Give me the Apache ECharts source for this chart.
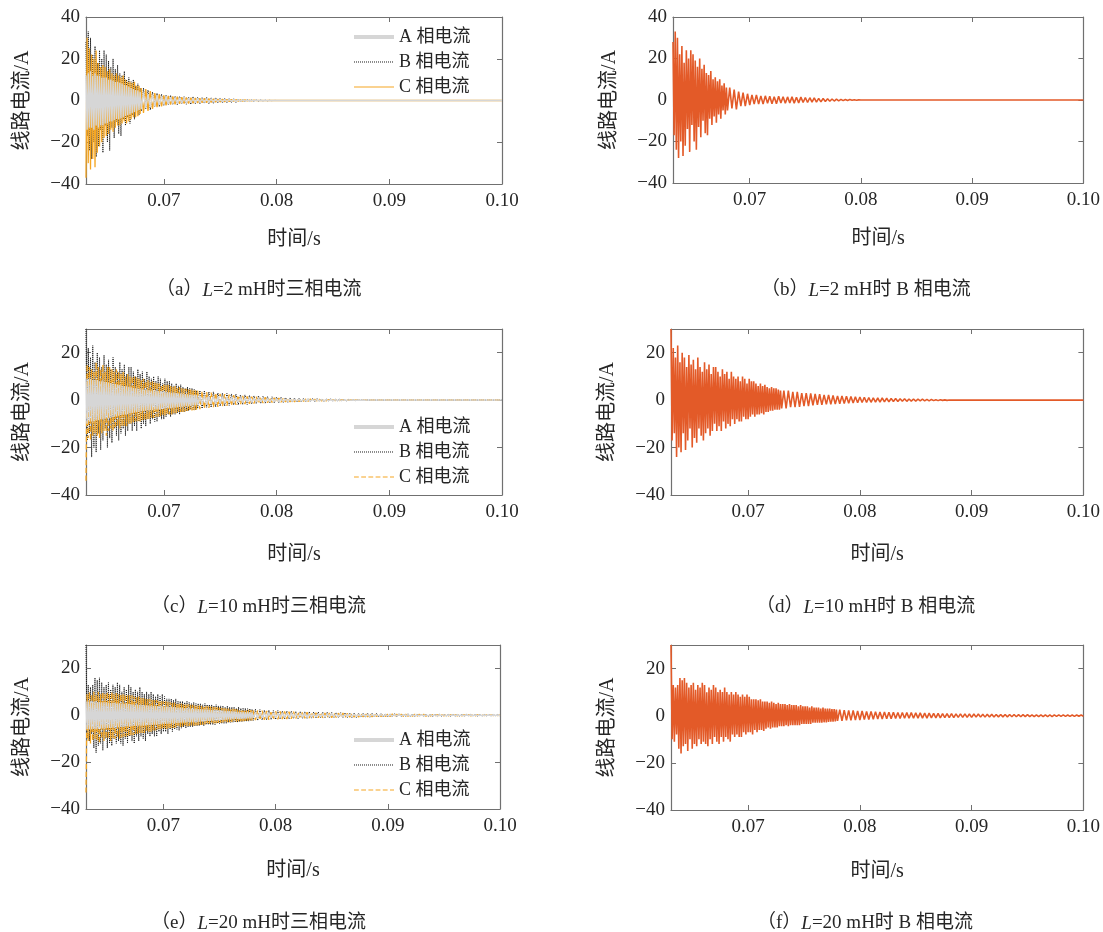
<!DOCTYPE html>
<html><head><meta charset="utf-8">
<script src="https://cdn.jsdelivr.net/npm/echarts@6/dist/echarts.min.js"></script>
<style>html,body{margin:0;padding:0;background:#fff}#c{width:1103px;height:932px}</style>
</head><body><div id="c"></div>
<script>
// ---------- data ----------
const T0 = 0.0631;          // first sample time (s)
const DT_FINE = 0.0001;     // spacing of read peaks in the dense early part (s)
const DT_COARSE = 0.0002;   // spacing of read peaks in the later part (s)
const T_END = 0.1;
const xTickValues = [0.07, 0.08, 0.09, 0.10];
const yTicks40 = [-40, -20, 0, 20, 40];
const yTicks30 = [-40, -20, 0, 20];
const phaseNames = ['A 相电流', 'B 相电流', 'C 相电流'];
const captionTags = ['a', 'b', 'c', 'd', 'e', 'f'];
const captionL = ['2', '2', '10', '10', '20', '20'];
const captionTail = ['时三相电流', '时 B 相电流', '时三相电流', '时 B 相电流', '时三相电流', '时 B 相电流'];
const FINE_N_L2 = 50, FINE_N_L10 = 100, FINE_N_L20 = 150; // number of dense samples per case

// L = 2 mH
const A_L2 = [12,-14,13,-13,14,-13,12,-14,13,-12,
 12,-13,12,-12,11,-12,11,-11,11,-11,
 10,-10,10,-10,9.5,-9.5,9,-9,9,-9,
 8.5,-8.5,8,-8,7.5,-7.5,7,-7,6.5,-6.5,
 6,-6,5.5,-5.5,5,-5,4.8,-4.5,4.2,-4,
 3.8,-3.5,3.2,-3,2.8,-2.6,2.4,-2.2,2,-1.9,
 1.8,-1.7,1.6,-1.5,1.4,-1.4,1.3,-1.3,1.2,-1.2,
 1.1,-1.1,1,-1,1,-0.9,0.9,-0.9,0.8,-0.8,
 0.8,-0.7,0.7,-0.6,0.6,-0.6,0.5,-0.5,0.5,-0.4,
 0.4,-0.4,0.3,-0.3,0.3,-0.3,0.2,-0.2,0.2,-0.2,
 0.15,-0.1,0.1,-0.1,0.05,-0.05,0,0,0,0,0];
const B_L2 = [28,-17,33,-24,30,-28,22,-20,26,-27,
 18,-22,24,-14,20,-25,24,-12,22,-20,
 19,-24,16,-13,20,-18,15,-10,17,-16,
 13,-17,12,-9,14,-12,10,-8,11,-11,
 9,-7,10,-9,7,-5,8,-7,6,-5,
 6,-4,5,-4.5,4,-3,3.5,-3,3,-2.5,
 2.5,-2,2.5,-2,2,-2,2,-1.6,1.8,-1.8,
 1.6,-1.8,1.8,-1.5,1.6,-1.6,1.5,-1.4,1.5,-1.5,
 1.3,-1.4,1.4,-1.2,1.2,-1.2,1.1,-1,1,-1,
 0.8,-0.9,0.7,-0.7,0.6,-0.6,0.5,-0.5,0.4,-0.4,
 0.3,-0.3,0.25,-0.2,0.2,-0.15,0.1,-0.1,0.05,0,0];
const C_L2 = [-37,30,-30,25,-33,22,-28,20,-32,24,
 -25,18,-22,16,-20,17,-18,16,-17,14,
 -16,15,-14,13,-15,12,-13,13,-12,12,
 -12,11,-11,12,-10,10,-11,9,-10,9,
 -9,8.5,-8,9,-8,7,-7.5,7,-6.5,6,
 -6,5.5,-5,4.5,-4,3.5,-3.2,3,-2.8,2.5,
 -2.3,2.2,-2,2,-1.8,1.8,-1.6,1.6,-1.5,1.5,
 -1.4,1.3,-1.3,1.2,-1.2,1.1,-1.1,1,-1,0.9,
 -0.9,0.8,-0.8,0.7,-0.7,0.6,-0.6,0.5,-0.5,0.5,
 -0.4,0.4,-0.3,0.3,-0.3,0.3,-0.2,0.2,-0.2,0.2,
 -0.1,0.1,-0.1,0.1,-0.05,0.05,0,0,0,0,0];

// L = 10 mH
const A_L10 = [9,-10,9,-9,9,-9,8.5,-9,8.5,-8.5,
 8.5,-8.5,8,-8,8,-8,7.8,-7.8,7.6,-7.6,
 7.4,-7.4,7.2,-7.2,7,-7,6.8,-6.8,6.6,-6.6,
 6.4,-6.4,6.2,-6.2,6,-6,5.8,-5.8,5.6,-5.6,
 5.4,-5.4,5.2,-5.2,5,-5,4.9,-4.9,4.8,-4.8,
 4.6,-4.6,4.5,-4.5,4.4,-4.4,4.2,-4.2,4.1,-4.1,
 4,-4,3.9,-3.9,3.8,-3.8,3.7,-3.7,3.6,-3.6,
 3.5,-3.5,3.4,-3.4,3.3,-3.3,3.2,-3.2,3.1,-3.1,
 3,-3,2.9,-2.9,2.8,-2.8,2.7,-2.7,2.6,-2.6,
 2.5,-2.5,2.4,-2.4,2.3,-2.3,2.2,-2.2,2.1,-2.1,
 2,-2,1.9,-1.8,1.7,-1.7,1.6,-1.5,1.5,-1.4,
 1.4,-1.3,1.3,-1.2,1.2,-1.1,1.1,-1,1,-1,
 0.9,-0.9,0.9,-0.8,0.8,-0.8,0.7,-0.7,0.7,-0.6,
 0.6,-0.6,0.6,-0.5,0.5,-0.5,0.5,-0.5,0.4,-0.4,
 0.4,-0.4,0.4,-0.3,0.3,-0.3,0.3,-0.3,0.3,-0.3,
 0.25,-0.25,0.2,-0.2,0.2,-0.2,0.2,-0.2,0.15,-0.15,
 0.15,-0.15,0.1,-0.1,0.1,-0.1,0.1,-0.1,0.1,-0.1,
 0.05,-0.05,0.05,-0.05,0,0];
const B_L10 = [30,-17,22,-14,18,-24,23,-20,16,-22,
 20,-14,18,-21,14,-17,19,-12,15,-20,
 17,-16,13,-18,18,-12,14,-15,12,-17,
 16,-14,13,-12,15,-15,11,-13,14,-10,
 14,-13,12,-11,10,-13,13,-9,11,-12,
 12,-10,9,-11,12,-8,10,-10,9,-8,
 10,-9,8,-9,10,-7,9,-8,7,-8,
 9,-7,8,-6,8,-7,7,-6,6,-6,
 7,-5.5,6,-6,6.5,-5,5.5,-5,5,-4.5,
 5.5,-4.5,5,-4,5,-4,4.5,-4,4,-3.5,
 4,-3.5,4,-3,3.5,-3,3.5,-2.8,3,-2.5,
 3,-2.5,2.8,-2.2,2.6,-2,2.5,-2,2.2,-1.8,
 2.2,-1.8,2,-1.6,1.8,-1.5,1.8,-1.4,1.6,-1.3,
 1.5,-1.2,1.4,-1.1,1.3,-1,1.2,-1,1.1,-0.9,
 1,-0.8,0.9,-0.8,0.9,-0.7,0.8,-0.7,0.7,-0.6,
 0.7,-0.6,0.6,-0.5,0.6,-0.5,0.5,-0.4,0.5,-0.4,
 0.4,-0.3,0.4,-0.3,0.3,-0.3,0.3,-0.2,0.2,-0.2,
 0.2,-0.1,0.1,-0.1,0.05,0];
const C_L10 = [-34,15,-16,14,-17,13,-15,12,-14,16,
 -15,14,-16,13,-14,15,-13,12,-15,14,
 -13,14,-12,13,-13,12,-12,13,-11,12,
 -12,11,-11,12,-11,10,-11,11,-10,10,
 -10,10,-9.5,10,-9,9.5,-9,9,-9,8.5,
 -8.5,9,-8.5,8,-8,8.5,-8,7.5,-7.5,8,
 -7.5,7.5,-7,7.5,-7,7,-7,6.5,-6.5,7,
 -6.5,6.5,-6,6.5,-6,6,-6,5.5,-5.5,6,
 -5.5,5.5,-5,5.5,-5,5,-5,4.8,-4.8,4.8,
 -4.6,4.6,-4.5,4.5,-4.4,4.4,-4.2,4.2,-4,4,
 -3.8,3.7,-3.5,3.4,-3.3,3.2,-3,3,-2.8,2.7,
 -2.6,2.5,-2.4,2.3,-2.2,2.1,-2,2,-1.8,1.8,
 -1.7,1.6,-1.5,1.5,-1.4,1.4,-1.3,1.3,-1.2,1.2,
 -1.1,1.1,-1,1,-0.9,0.9,-0.9,0.8,-0.8,0.8,
 -0.7,0.7,-0.7,0.6,-0.6,0.6,-0.5,0.5,-0.5,0.5,
 -0.4,0.4,-0.4,0.4,-0.3,0.3,-0.3,0.3,-0.3,0.2,
 -0.2,0.2,-0.2,0.2,-0.15,0.15,-0.1,0.1,-0.1,0.1,
 -0.05,0.05,-0.05,0.05,0,0];

// L = 20 mH
const A_L20 = [6,-6,6,-6,5.9,-5.9,5.9,-5.8,5.8,-5.8,
 5.7,-5.7,5.7,-5.6,5.6,-5.6,5.5,-5.5,5.5,-5.4,
 5.4,-5.4,5.3,-5.3,5.3,-5.2,5.2,-5.2,5.1,-5.1,
 5.1,-5,5,-5,4.9,-4.9,4.9,-4.8,4.8,-4.8,
 4.7,-4.7,4.7,-4.6,4.6,-4.6,4.5,-4.5,4.5,-4.4,
 4.4,-4.4,4.3,-4.3,4.3,-4.2,4.2,-4.2,4.1,-4.1,
 4.1,-4,4,-4,3.9,-3.9,3.9,-3.8,3.8,-3.8,
 3.7,-3.7,3.7,-3.6,3.6,-3.6,3.5,-3.5,3.5,-3.4,
 3.4,-3.4,3.3,-3.3,3.3,-3.2,3.2,-3.2,3.1,-3.1,
 3.1,-3,3,-3,2.9,-2.9,2.9,-2.8,2.8,-2.8,
 2.7,-2.7,2.7,-2.6,2.6,-2.6,2.5,-2.5,2.5,-2.4,
 2.4,-2.4,2.3,-2.3,2.3,-2.2,2.2,-2.2,2.1,-2.1,
 2.1,-2,2,-2,1.9,-1.9,1.9,-1.8,1.8,-1.8,
 1.7,-1.7,1.7,-1.6,1.6,-1.6,1.5,-1.5,1.5,-1.5,
 1.4,-1.4,1.4,-1.4,1.3,-1.3,1.3,-1.3,1.2,-1.2,
 1.2,-1.2,1.1,-1.1,1.1,-1.1,1,-1,1,-1,
 0.95,-0.95,0.9,-0.9,0.9,-0.85,0.85,-0.85,0.8,-0.8,
 0.8,-0.75,0.75,-0.75,0.7,-0.7,0.7,-0.65,0.65,-0.65,
 0.6,-0.6,0.6,-0.6,0.55,-0.55,0.55,-0.5,0.5,-0.5,
 0.5,-0.45,0.45,-0.45,0.45,-0.4,0.4,-0.4,0.4,-0.4,
 0.35,-0.35,0.35,-0.35,0.35,-0.3,0.3,-0.3,0.3,-0.3,
 0.3,-0.25,0.25,-0.25,0.25,-0.25,0.25,-0.2,0.2,-0.2,
 0.2,-0.2,0.2,-0.2,0.2,-0.2,0.15,-0.15,0.15,-0.15,
 0.15,-0.15,0.15,-0.15,0.15,-0.15,0.1,-0.1,0.1,-0.1,
 0.1,-0.1,0.1,-0.1,0.1,-0.1,0.1,-0.1,0.1,-0.1,
 0.1,-0.1,0.1,-0.1,0.1,-0.1,0.1,-0.1,0.1,-0.1];
const B_L20 = [30,-10,13,-11,12,-8,13,-14,16,-16,
 15,-13,16,-12,14,-15,12,-10,13,-14,
 14,-12,11,-13,13,-10,12,-12,14,-11,
 13,-12,10,-13,12,-10,11,-12,13,-9,
 12,-11,10,-12,11,-9,10,-11,12,-9,
 10,-10,9,-11,10,-8,9,-9,10,-8,
 9,-9,8,-9,9,-7,8,-8,9,-7,
 8,-7,7,-8,7,-6,7,-7,6.5,-6,
 7,-6,6,-6.5,6,-5.5,6,-5,5.5,-5.5,
 6,-5,5.5,-5,5,-5,5.5,-4.5,5,-4.5,
 5,-4.5,5,-4,4.5,-4.5,5,-4,4.5,-4,
 4.5,-4,4.5,-4,4,-4,4.5,-3.5,4,-3.5,
 4,-3.5,4,-3.5,3.5,-3.5,4,-3,3.5,-3,
 3.5,-3,3.5,-3,3,-3,3.5,-2.8,3,-2.8,
 3,-2.6,3,-2.5,2.8,-2.5,2.8,-2.4,2.6,-2.2,
 2.6,-2.2,2.4,-2,2.2,-2,2.2,-1.8,2,-1.8,
 2,-1.6,1.8,-1.6,1.8,-1.5,1.7,-1.4,1.6,-1.4,
 1.6,-1.3,1.5,-1.3,1.5,-1.2,1.4,-1.2,1.4,-1.1,
 1.3,-1.1,1.3,-1.1,1.2,-1,1.2,-1,1.1,-1,
 1.1,-0.9,1,-0.9,1,-0.9,0.9,-0.8,0.9,-0.8,
 0.9,-0.8,0.8,-0.7,0.8,-0.7,0.8,-0.7,0.7,-0.7,
 0.7,-0.6,0.7,-0.6,0.6,-0.6,0.6,-0.55,0.6,-0.55,
 0.55,-0.5,0.55,-0.5,0.5,-0.5,0.5,-0.45,0.5,-0.45,
 0.45,-0.45,0.45,-0.4,0.45,-0.4,0.4,-0.4,0.4,-0.4,
 0.4,-0.35,0.4,-0.35,0.35,-0.35,0.35,-0.3,0.35,-0.3,
 0.35,-0.3,0.3,-0.3,0.3,-0.3,0.3,-0.25,0.3,-0.25];
const C_L20 = [-33,9,-11,10,-12,9,-11,10,-10,9,
 -11,10,-12,9,-10,10,-11,9,-10,10,
 -10,9,-11,10,-10,9,-10,9.5,-9.5,9,
 -10,9,-9.5,9,-9,9,-9,8.5,-9,8.5,
 -8.5,8.5,-8.5,8,-8,8,-8,8,-7.5,7.5,
 -7.5,7.5,-7.5,7,-7,7,-7,7,-7,6.5,
 -6.5,6.5,-6.5,6.5,-6,6.5,-6,6,-6,6,
 -5.8,6,-5.8,5.8,-5.6,5.6,-5.5,5.5,-5.4,5.4,
 -5.2,5.2,-5,5.2,-5,5,-4.9,4.9,-4.8,4.8,
 -4.7,4.7,-4.6,4.6,-4.5,4.5,-4.4,4.4,-4.3,4.3,
 -4.2,4.2,-4.1,4.1,-4,4,-3.9,3.9,-3.8,3.8,
 -3.7,3.7,-3.6,3.6,-3.5,3.5,-3.4,3.4,-3.3,3.3,
 -3.2,3.2,-3.1,3.1,-3,3,-3,2.9,-2.9,2.9,
 -2.8,2.8,-2.7,2.7,-2.7,2.6,-2.6,2.6,-2.5,2.5,
 -2.5,2.4,-2.4,2.4,-2.3,2.3,-2.3,2.2,-2.2,2.2,
 -2.1,2.1,-2,2,-1.9,1.9,-1.9,1.8,-1.8,1.8,
 -1.7,1.7,-1.6,1.6,-1.6,1.5,-1.5,1.5,-1.4,1.4,
 -1.4,1.3,-1.3,1.3,-1.2,1.2,-1.2,1.1,-1.1,1.1,
 -1.1,1,-1,1,-1,0.95,-0.95,0.9,-0.9,0.9,
 -0.85,0.85,-0.8,0.8,-0.8,0.75,-0.75,0.75,-0.7,0.7,
 -0.7,0.65,-0.65,0.65,-0.6,0.6,-0.6,0.6,-0.55,0.55,
 -0.55,0.55,-0.5,0.5,-0.5,0.5,-0.5,0.45,-0.45,0.45,
 -0.45,0.45,-0.4,0.4,-0.4,0.4,-0.4,0.4,-0.35,0.35,
 -0.35,0.35,-0.35,0.35,-0.3,0.3,-0.3,0.3,-0.3,0.3,
 -0.3,0.3,-0.25,0.25,-0.25,0.25,-0.25,0.25,-0.25,0.25,
 -0.2,0.2,-0.2,0.2,-0.2,0.2,-0.2,0.2,-0.2,0.2];

// ---------- layout & style ----------
const FONT = "'Liberation Serif','Noto Sans CJK SC',serif";
const TXT = '#262626';
const AXIS_C = '#707070';
const COL_A = '#d6d6d6', COL_B = '#1a1a1a', COL_C = '#f5a623', COL_R = '#e35a28';

const panels = [
  {left: 86,  top: 17,  width: 416, height: 167, yMax: 40, yt: yTicks40, xGap: 46, three: true,  sets: [A_L2, B_L2, C_L2],    fineN: FINE_N_L2,  cDash: 'solid',  legendTop: 28,  capX: 151, capY: 276},
  {left: 673, top: 17,  width: 415, height: 166, yMax: 40, yt: yTicks40, xGap: 46, three: false, sets: [B_L2],                fineN: FINE_N_L2,  capX: 756, capY: 276},
  {left: 86,  top: 329, width: 416, height: 166, yMax: 30, yt: yTicks30, xGap: 50, three: true,  sets: [A_L10, B_L10, C_L10], fineN: FINE_N_L10, cDash: 'dashed', legendTop: 418, capX: 146, capY: 593},
  {left: 671, top: 329, width: 417, height: 166, yMax: 30, yt: yTicks30, xGap: 50, three: false, sets: [B_L10],               fineN: FINE_N_L10, capX: 751, capY: 593},
  {left: 86,  top: 645, width: 414, height: 164, yMax: 30, yt: yTicks30, xGap: 52, three: true,  sets: [A_L20, B_L20, C_L20], fineN: FINE_N_L20, cDash: 'dashed', legendTop: 731, capX: 146, capY: 909},
  {left: 671, top: 645, width: 416, height: 165, yMax: 30, yt: yTicks30, xGap: 52, three: false, sets: [B_L20],               fineN: FINE_N_L20, capX: 752, capY: 909}
];

function sampleTime(i, fineN) {
  return i < fineN ? T0 + i * DT_FINE : T0 + (fineN - 1) * DT_FINE + (i - fineN + 1) * DT_COARSE;
}
function toPoints(vals, fineN) {
  const pts = vals.map((v, i) => [+sampleTime(i, fineN).toFixed(5), v]);
  if (pts[pts.length - 1][0] < T_END - 1e-9) pts.push([T_END, 0]);
  return pts;
}
const minus = s => String(s).replace('-', '\u2212');

const grid = [], xAxis = [], yAxis = [], series = [], legend = [], title = [];
const hideSym = {color: 'rgba(0,0,0,0)', borderColor: 'rgba(0,0,0,0)', borderWidth: 0, opacity: 0};
panels.forEach((p, k) => {
  grid.push({left: p.left, top: p.top, width: p.width, height: p.height});
  const axLine = {show: true, onZero: false, lineStyle: {color: AXIS_C, width: 1.2}};
  const tick = vals => ({show: true, inside: true, length: 5, customValues: vals, lineStyle: {color: AXIS_C}});
  xAxis.push({gridIndex: k, type: 'value', min: T0, max: T_END, position: 'bottom',
    axisLine: axLine, axisTick: tick(xTickValues),
    axisLabel: {customValues: xTickValues, formatter: v => v.toFixed(2), margin: 8,
      fontFamily: FONT, fontSize: 19, color: TXT},
    splitLine: {show: false},
    name: '时间/s', nameLocation: 'middle', nameGap: p.xGap,
    nameTextStyle: {fontFamily: FONT, fontSize: 20, color: TXT}});
  xAxis.push({gridIndex: k, type: 'value', min: T0, max: T_END, position: 'top',
    axisLine: axLine, axisTick: tick(xTickValues),
    axisLabel: {show: false}, splitLine: {show: false}});
  yAxis.push({gridIndex: k, type: 'value', min: -40, max: p.yMax, position: 'left',
    axisLine: axLine, axisTick: tick(p.yt),
    axisLabel: {customValues: p.yt, formatter: v => minus(v), margin: 6,
      fontFamily: FONT, fontSize: 19, color: TXT},
    splitLine: {show: false},
    name: '线路电流/A', nameLocation: 'middle', nameGap: 53, nameRotate: 90,
    nameTextStyle: {fontFamily: FONT, fontSize: 20, color: TXT}});
  yAxis.push({gridIndex: k, type: 'value', min: -40, max: p.yMax, position: 'right',
    axisLine: axLine, axisTick: tick(p.yt),
    axisLabel: {show: false}, splitLine: {show: false}});

  const xi = 2 * k, yi = 2 * k;
  if (p.three) {
    const [a, b, c] = p.sets;
    series.push({name: phaseNames[1], type: 'line', xAxisIndex: xi, yAxisIndex: yi, data: toPoints(b, p.fineN),
      symbol: 'none', animation: false, lineStyle: {color: COL_B, width: 1, type: 'dotted'}, itemStyle: {color: COL_B}});
    series.push({name: phaseNames[2], type: 'line', xAxisIndex: xi, yAxisIndex: yi, data: toPoints(c, p.fineN),
      symbol: 'none', animation: false, lineStyle: {color: COL_C, width: 1.3, type: p.cDash}, itemStyle: {color: COL_C}});
    series.push({name: phaseNames[0], type: 'line', xAxisIndex: xi, yAxisIndex: yi, data: toPoints(a, p.fineN),
      symbol: 'none', animation: false, lineStyle: {color: COL_A, width: 1.4}, itemStyle: {color: COL_A}});
    legend.push({orient: 'vertical', left: 352, top: p.legendTop, itemWidth: 40, itemHeight: 14, itemGap: 7,
      selectedMode: false, padding: 0, itemStyle: hideSym,
      textStyle: {fontFamily: FONT, fontSize: 18, color: TXT},
      data: [
        {name: phaseNames[0], itemStyle: hideSym, lineStyle: {width: 4, color: COL_A, type: 'solid'}},
        {name: phaseNames[1], itemStyle: hideSym, lineStyle: {width: 1, color: COL_B, type: 'dotted'}},
        {name: phaseNames[2], itemStyle: hideSym, lineStyle: {width: 1.2, color: COL_C, type: p.cDash}}
      ]});
  } else {
    series.push({name: 'B相-' + captionTags[k], type: 'line', xAxisIndex: xi, yAxisIndex: yi, data: toPoints(p.sets[0], p.fineN),
      symbol: 'none', animation: false, lineStyle: {color: COL_R, width: 1.6}, itemStyle: {color: COL_R}});
  }
  title.push({left: p.capX, top: p.capY,
    text: '{p|（' + captionTags[k] + '）}{i|L}{p|=' + captionL[k] + ' mH' + captionTail[k] + '}',
    textStyle: {fontWeight: 'normal', rich: {
      p: {fontFamily: FONT, fontSize: 19, color: TXT, fontWeight: 'normal'},
      i: {fontFamily: FONT, fontSize: 19, color: TXT, fontStyle: 'italic', fontWeight: 'normal'}
    }}});
});

const chart = echarts.init(document.getElementById('c'), null, {renderer: 'canvas'});
chart.setOption({backgroundColor: '#fff', animation: false, title, grid, xAxis, yAxis, legend, series});
</script>
</body></html>
